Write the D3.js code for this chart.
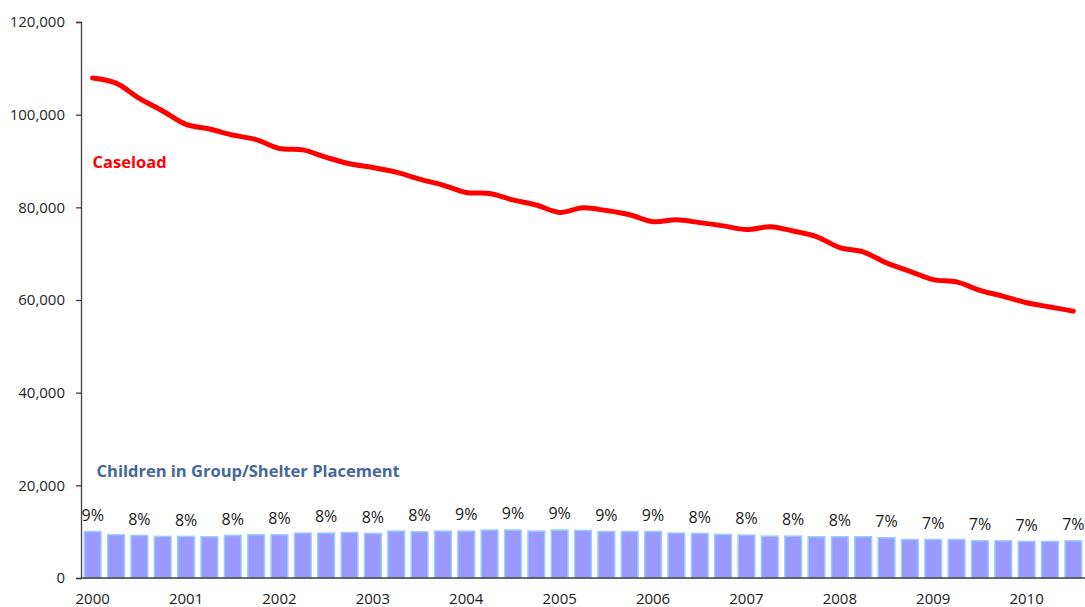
<!DOCTYPE html>
<html>
<head>
<meta charset="utf-8">
<script src="https://cdn.jsdelivr.net/npm/d3@7"></script>
<style>
  html, body { margin: 0; padding: 0; background: #fff; }
  svg { display: block; }
</style>
</head>
<body>
<div id="chart"></div>
<script>
// Quarterly data, 2000 Q1 through 2010 Q3
const years = ["2000", "2001", "2002", "2003", "2004", "2005", "2006", "2007", "2008", "2009", "2010"];

const caseload = [
  107900, 106800, 103500, 100800, 97900, 96900, 95600, 94600,
  92700, 92400, 90800, 89400, 88600, 87600, 86100, 84800,
  83200, 83000, 81600, 80500, 78900, 79900, 79300, 78400,
  76900, 77300, 76700, 76000, 75200, 75800, 74900, 73700,
  71300, 70400, 68000, 66200, 64400, 63900, 62100, 60800,
  59400, 58500, 57600
];

const groupShelter = [
  10200, 9500, 9350, 9130, 9130, 9060, 9350, 9500,
  9500, 9860, 9860, 9990, 9780, 10290, 10140, 10290,
  10290, 10510, 10510, 10290, 10510, 10420, 10200, 10200,
  10200, 9860, 9780, 9560, 9430, 9210, 9210, 9060,
  9060, 9060, 8850, 8480, 8480, 8480, 8200, 8200,
  8050, 8050, 8200
];

// shown on every other bar
const pctLabels = [
  "9%", "8%", "8%", "8%", "8%", "8%", "8%", "8%", "9%", "9%", "9%",
  "9%", "9%", "8%", "8%", "8%", "8%", "7%", "7%", "7%", "7%", "7%"
];

const yTicks = [0, 20000, 40000, 60000, 80000, 100000, 120000];

const W = 1085, H = 607;
const margin = { top: 22, right: 0, bottom: 29, left: 81 };
const font = "'Open Sans', 'Noto Sans', sans-serif";

const svg = d3.select("#chart").append("svg")
  .attr("width", W).attr("height", H)
  .style("font-family", font);

const idx = d3.range(caseload.length);

const x = d3.scaleBand()
  .domain(idx)
  .range([margin.left, W - margin.right])
  .paddingInner(0.22)
  .paddingOuter(0.11);

const y = d3.scaleLinear()
  .domain([0, 120000])
  .range([H - margin.bottom, margin.top]);

// ---- bars ----
svg.append("g").selectAll("rect")
  .data(idx)
  .join("rect")
  .attr("x", i => x(i) + 0.75)
  .attr("width", x.bandwidth() - 1.5)
  .attr("y", i => y(groupShelter[i]) + 0.75)
  .attr("height", i => y(0) - y(groupShelter[i]) - 0.75)
  .attr("fill", "#9999ff")
  .attr("stroke", "#99ccff")
  .attr("stroke-width", 1.5);

// percent labels above every other bar
svg.append("g").selectAll("text")
  .data(pctLabels)
  .join("text")
  .attr("x", (d, k) => x(k * 2) + x.bandwidth() / 2)
  .attr("y", (d, k) => y(groupShelter[k * 2]) - 10)
  .attr("text-anchor", "middle")
  .attr("font-size", 16)
  .attr("fill", "#1a1a1a")
  .text(d => d);

// ---- caseload line ----
const line = d3.line()
  .x((d, i) => x(i) + x.bandwidth() / 2)
  .y(d => y(d))
  .curve(d3.curveCatmullRom.alpha(0.5));

svg.append("path")
  .datum(caseload)
  .attr("d", line)
  .attr("fill", "none")
  .attr("stroke", "#ff0000")
  .attr("stroke-width", 5)
  .attr("stroke-linecap", "round")
  .attr("stroke-linejoin", "round");

// ---- axes ----
const yAxis = d3.axisLeft(y)
  .tickValues(yTicks)
  .tickSize(5)
  .tickPadding(11)
  .tickFormat(d3.format(","));

const gy = svg.append("g")
  .attr("transform", `translate(${margin.left},0)`)
  .call(yAxis);
gy.select(".domain").attr("stroke", "#404040").attr("stroke-width", 1.3);
gy.selectAll(".tick line").attr("stroke", "#404040").attr("stroke-width", 1.3);
gy.selectAll(".tick text")
  .attr("font-family", font)
  .attr("font-size", 15)
  .attr("fill", "#262626");

svg.append("line")
  .attr("x1", margin.left).attr("x2", W)
  .attr("y1", y(0)).attr("y2", y(0))
  .attr("stroke", "#404040")
  .attr("stroke-width", 1.3);

// year labels under the first quarter of each year
svg.append("g").selectAll("text")
  .data(years)
  .join("text")
  .attr("x", (d, k) => x(k * 4) + x.bandwidth() / 2)
  .attr("y", H - 3)
  .attr("text-anchor", "middle")
  .attr("font-size", 15)
  .attr("fill", "#1a1a1a")
  .text(d => d);

// ---- series labels ----
svg.append("text")
  .attr("x", x(0) + 9)
  .attr("y", y(88600) + 1)
  .attr("font-size", 16.5)
  .attr("font-weight", 700)
  .attr("fill", "#ff0000")
  .text("Caseload");

svg.append("text")
  .attr("x", x(0) + 13)
  .attr("y", y(21900))
  .attr("font-size", 16.5)
  .attr("font-weight", 700)
  .attr("fill", "#44679c")
  .text("Children in Group/Shelter Placement");
</script>
</body>
</html>
